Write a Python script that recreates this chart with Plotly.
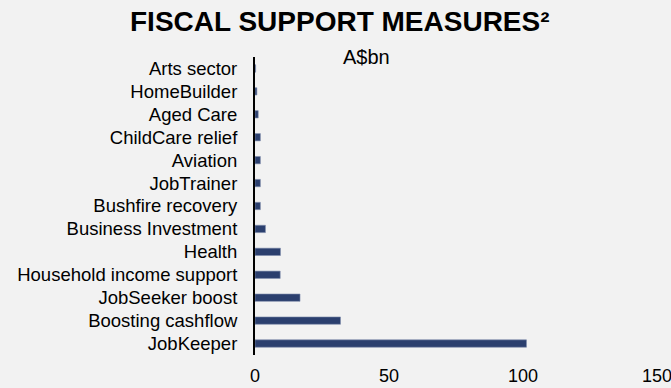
import plotly.graph_objects as go

categories = ["JobKeeper", "Boosting cashflow", "JobSeeker boost", "Household income support",
              "Health", "Business Investment", "Bushfire recovery", "JobTrainer", "Aviation",
              "ChildCare relief", "Aged Care", "HomeBuilder", "Arts sector"]
values = [101.3, 31.9, 16.8, 9.4, 9.5, 3.9, 2.0, 2.0, 2.0, 2.0, 1.2, 0.7, 0.25]
x_ticks = [0, 50, 100, 150]

FONT = "Liberation Sans, Arial, sans-serif"
W, H = 671, 388
# plot area in window pixels: x 255..657, y 57..355
PL, PR, PT, PB = 255, 657, 57, 355
PW, PH = PR - PL, PB - PT

def px_x(x):
    return (x - PL) / PW

def px_y(y):
    return (PB - y) / PH

fig = go.Figure(go.Bar(
    y=categories, x=values, orientation="h",
    marker=dict(color="#2B3F6E", line=dict(color="#7F8DAD", width=0.6)),
    width=0.32,
))

fig.update_layout(
    width=W, height=H,
    paper_bgcolor="#F2F2F2", plot_bgcolor="#F2F2F2",
    margin=dict(l=PL, r=W - PR, t=PT, b=H - PB, autoexpand=False),
    showlegend=False,
    font=dict(family=FONT, size=18, color="#000000"),
    annotations=[
        dict(text="<b>FISCAL SUPPORT MEASURES²</b>", x=px_x(340), y=px_y(21.5),
             xref="paper", yref="paper", xanchor="center", yanchor="middle",
             showarrow=False, font=dict(family=FONT, size=28, color="#000000")),
        dict(text="A$bn", x=px_x(366), y=px_y(57), xref="paper", yref="paper",
             xanchor="center", yanchor="middle", showarrow=False,
             font=dict(family=FONT, size=20, color="#000000")),
    ],
)
fig.update_xaxes(range=[0, 150], tickmode="array", tickvals=x_ticks, showgrid=False,
                 zeroline=False, showline=False, ticks="", ticklabelstandoff=8,
                 ticklabeloverflow="allow", automargin=False,
                 tickfont=dict(family=FONT, size=18))
fig.update_yaxes(tickmode="array", tickvals=categories, showgrid=False, zeroline=False,
                 showline=True, linecolor="#000000", linewidth=2, ticks="",
                 ticklabelstandoff=12, automargin=False,
                 tickfont=dict(family=FONT, size=18.5))

fig.write_html("out.html", config={"displayModeBar": False},
               post_script="document.body.style.margin='0';document.body.style.overflow='hidden';")
